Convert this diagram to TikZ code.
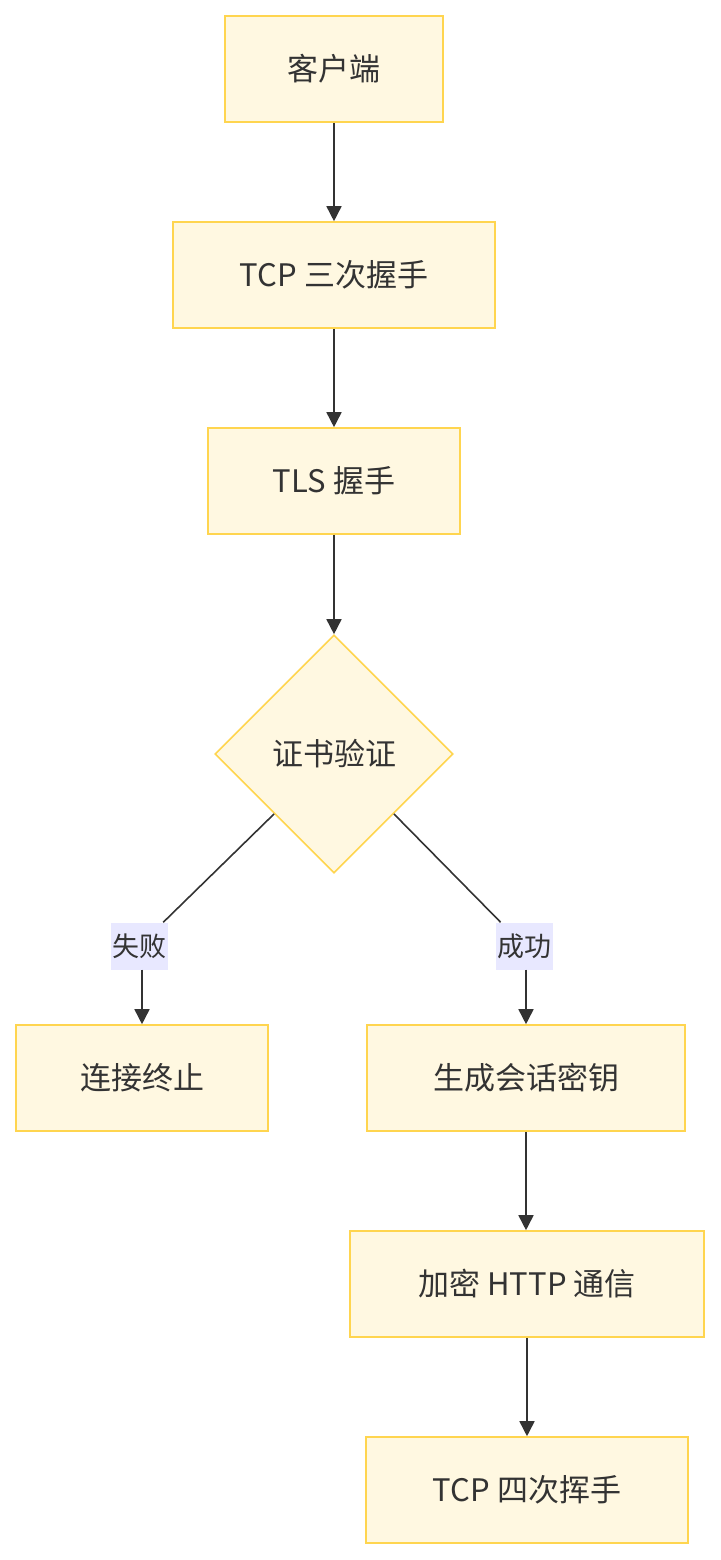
\documentclass[tikz,border=0pt]{standalone}
\usepackage{fontspec}
\setmainfont{Noto Sans CJK SC}
\usepackage{tikz}
\usetikzlibrary{positioning,calc,shapes.geometric,arrows.meta}
\definecolor{boxfill}{HTML}{FFF8E1}
\definecolor{boxline}{HTML}{FFD54F}
\definecolor{ink}{HTML}{333333}
\definecolor{tagfill}{HTML}{E8E8FF}
\newcommand*{\boxtxt}[1]{\fontsize{31}{37}\selectfont #1}
\newcommand*{\tagtxt}[1]{\fontsize{27}{32}\selectfont #1}
\tikzset{
  stepbox/.style={draw=boxline,fill=boxfill,line width=1.6pt,text=ink,
                  minimum height=106pt,inner sep=0pt},
  checkbox/.style={diamond,draw=boxline,fill=boxfill,line width=1.6pt,text=ink,
                  minimum width=238pt,minimum height=238pt,inner sep=0pt},
  tag/.style={fill=tagfill,text=ink,minimum width=57pt,minimum height=47pt,inner sep=0pt},
  flow/.style={draw=ink,line width=1.6pt,-{Triangle[length=15pt,width=15pt]}},
  link/.style={draw=ink,line width=1.6pt}
}

\begin{document}
\begin{tikzpicture}[x=1pt,y=-1pt]
\useasboundingbox (0,0) rectangle (720,1560);
% Main column
\node[stepbox,minimum width=218pt] (client) at (334,69) {\boxtxt{客户端}};
\node[stepbox,minimum width=322pt] (tcp) at (334,275) {\boxtxt{TCP 三次握手}};
\node[stepbox,minimum width=252pt] (tls) at (334,481) {\boxtxt{TLS 握手}};
% Decision
\node[checkbox] (cert) at (334,754) {\boxtxt{证书验证}};
% Two outcomes
\node[stepbox,minimum width=252pt] (stop) at (142,1078) {\boxtxt{连接终止}};
\node[stepbox,minimum width=318pt] (key) at (526,1078) {\boxtxt{生成会话密钥}};
\node[stepbox,minimum width=354pt] (https) at (527,1284) {\boxtxt{加密 HTTP 通信}};
\node[stepbox,minimum width=322pt] (fin) at (527,1490) {\boxtxt{TCP 四次挥手}};
% Edge labels
\node[tag] (fail) at (139,946) {\tagtxt{失败}};
\node[tag] (ok) at (524,946) {\tagtxt{成功}};
% Side midpoints of the diamond
\coordinate (cert-sw) at ($(cert.west)!0.5!(cert.south)$);
\coordinate (cert-se) at ($(cert.east)!0.5!(cert.south)$);
% Arrows
\draw[flow] (client) -- (tcp);
\draw[flow] (tcp) -- (tls);
\draw[flow] (tls) -- (cert);
\draw[link] (cert-sw) -- (fail);
\draw[flow] (fail.south -| stop.north) -- (stop.north);
\draw[link] (cert-se) -- (ok);
\draw[flow] (ok.south -| key.north) -- (key.north);
\draw[flow] (key.south) -- (key.south |- https.north);
\draw[flow] (https) -- (fin);
\end{tikzpicture}
\end{document}
